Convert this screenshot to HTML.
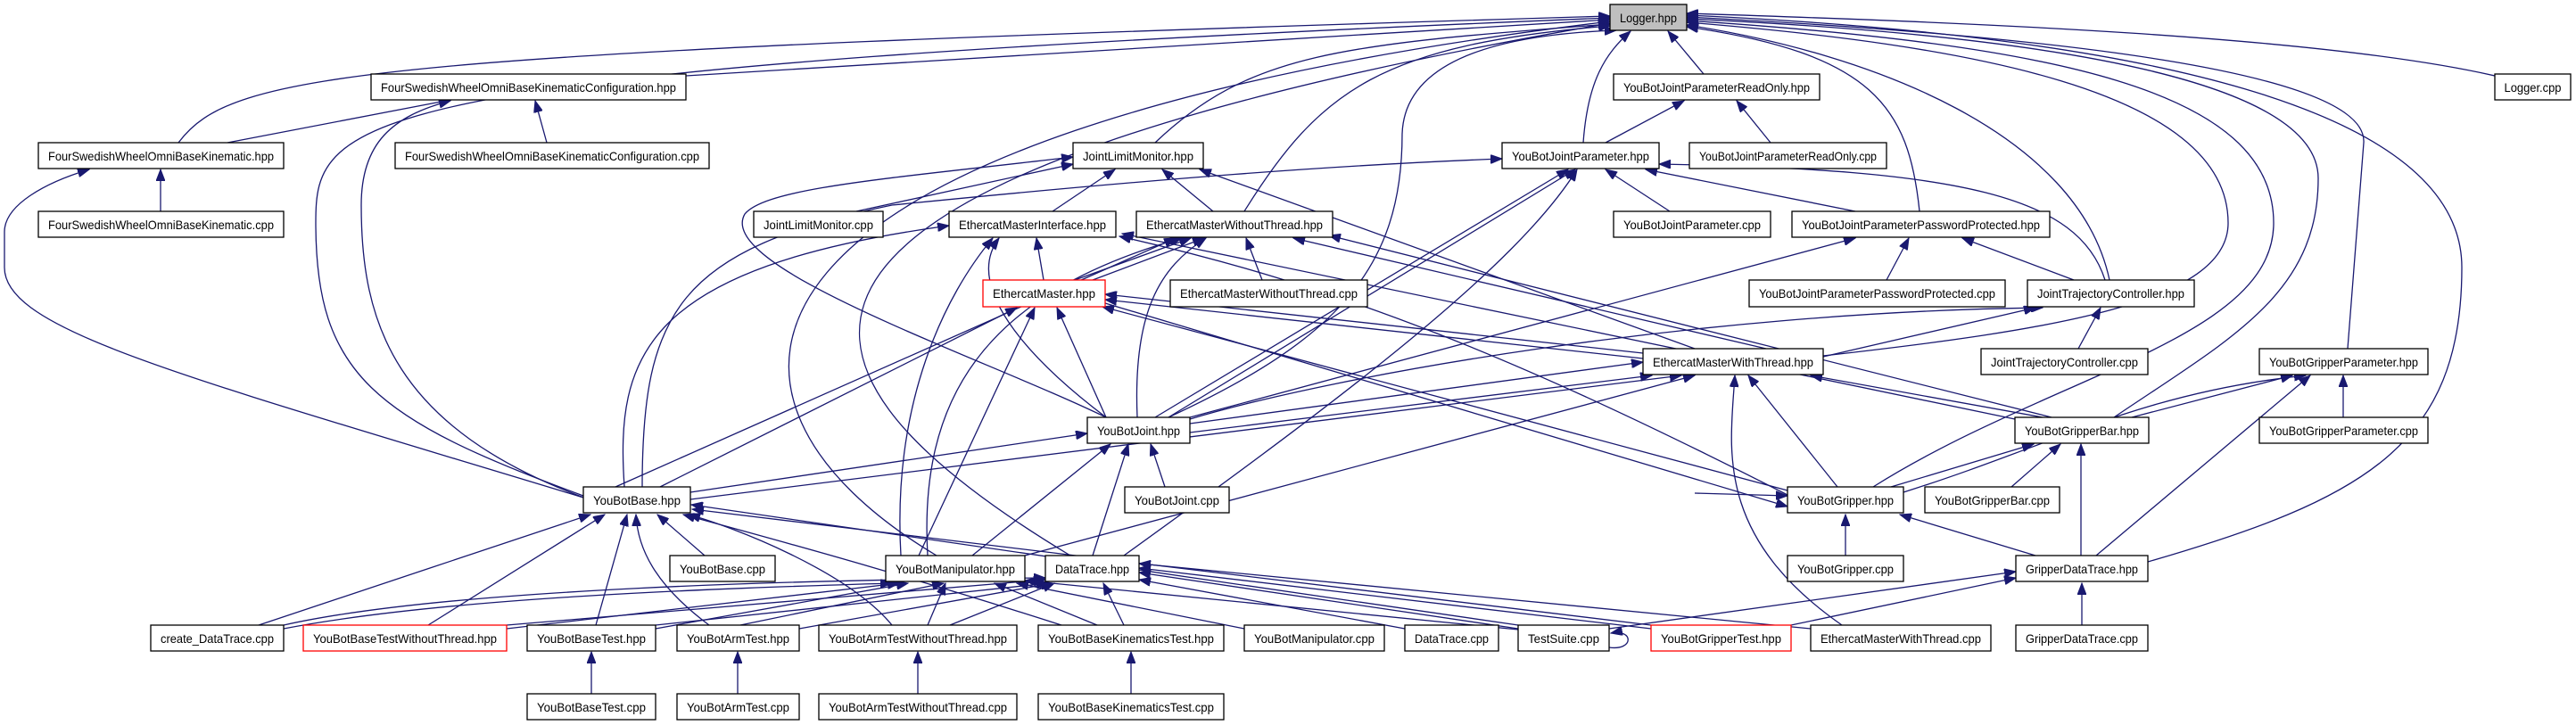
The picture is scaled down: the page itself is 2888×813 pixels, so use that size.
<!DOCTYPE html>
<html><head><meta charset="utf-8"><style>
html,body{margin:0;padding:0;background:#fff;}
svg{display:block;}
text{font-family:"Liberation Sans",Arial,sans-serif;font-size:14px;fill:#000;}
.e path{fill:none;stroke:#191970;stroke-width:1.3;}
.n rect{fill:#fff;stroke:#000;stroke-width:1.3;}
</style></head><body>
<svg width="2888" height="813" viewBox="0 0 2888 813" xmlns="http://www.w3.org/2000/svg">
<defs><marker id="a" markerUnits="userSpaceOnUse" markerWidth="14" markerHeight="10" refX="13" refY="5" orient="auto"><path d="M0,0 L13,5 L0,10 z" fill="#191970" stroke="#191970"/></marker></defs>
<g class="e" marker-end="url(#a)">
<!-- to Logger -->
<path marker-end="url(#a)" d="M200 160 C260 80 400 60 1805 18"/>
<path marker-end="url(#a)" d="M654 556 C420 470 354 420 354 250 C354 130 380 78 1805 20"/>
<path marker-end="url(#a)" d="M769 85 L1805 22"/>
<path marker-end="url(#a)" d="M1050 623 C760 450 760 150 1805 24"/>
<path marker-end="url(#a)" d="M1200 623 C830 400 800 200 1805 26"/>
<path marker-end="url(#a)" d="M1295 160 C1400 60 1500 50 1805 27"/>
<path marker-end="url(#a)" d="M1395 237 C1480 100 1550 50 1805 29"/>
<path marker-end="url(#a)" d="M1310 468 C1500 380 1572 300 1572 150 C1575 60 1700 38 1812 34"/>
<path marker-end="url(#a)" d="M1775 160 C1780 90 1800 60 1828 35"/>
<path marker-end="url(#a)" d="M1910 83 L1870 35"/>
<path marker-end="url(#a)" d="M2152 237 C2140 120 2100 60 1891 30"/>
<path marker-end="url(#a)" d="M2365 314 C2330 150 2100 60 1891 28"/>
<path marker-end="url(#a)" d="M2044 399 C2300 370 2498 340 2498 250 C2498 100 2200 50 1891 25"/>
<path marker-end="url(#a)" d="M2100 546 C2300 420 2549 380 2549 250 C2549 100 2300 50 1891 23"/>
<path marker-end="url(#a)" d="M2370 468 C2500 380 2599 330 2599 200 C2599 90 2300 40 1891 21"/>
<path marker-end="url(#a)" d="M2632 391 L2650 160 C2655 80 2300 40 1891 19"/>
<path marker-end="url(#a)" d="M2408 630 C2650 560 2760 500 2760 300 C2760 120 2400 40 1891 17"/>
<path marker-end="url(#a)" d="M2797 85 C2600 40 2200 25 1891 15"/>
<!-- FC / FK -->
<path marker-end="url(#a)" d="M255 160 L505 112"/>
<path marker-end="url(#a)" d="M613 160 L600 113"/>
<path marker-end="url(#a)" d="M660 560 C440 480 405 360 405 230 C405 160 440 130 505 113"/>
<path marker-end="url(#a)" d="M180 237 L180 190"/>
<path marker-end="url(#a)" d="M654 558 C200 420 5 370 5 300 L5 260 C5 230 50 205 100 190"/>
<!-- RO / JP -->
<path marker-end="url(#a)" d="M1800 160 L1888 113"/>
<path marker-end="url(#a)" d="M1985 160 L1947 113"/>
<path marker-end="url(#a)" d="M1872 237 L1800 190"/>
<path marker-end="url(#a)" d="M2080 237 L1845 190"/>
<path marker-end="url(#a)" d="M2360 314 C2330 220 2200 190 1860 184"/>
<path marker-end="url(#a)" d="M1295 468 L1758 190"/>
<path marker-end="url(#a)" d="M1310 468 L1766 190"/>
<path marker-end="url(#a)" d="M1260 623 C1500 450 1700 300 1768 190"/>
<path marker-end="url(#a)" d="M720 546 C720 350 760 280 1000 230 C1300 200 1500 185 1684 178"/>
<!-- JLM -->
<path marker-end="url(#a)" d="M960 237 L1203 184"/>
<path marker-end="url(#a)" d="M1180 237 L1250 190"/>
<path marker-end="url(#a)" d="M1360 237 L1303 190"/>
<path marker-end="url(#a)" d="M1900 391 L1345 190"/>
<path marker-end="url(#a)" d="M1240 468 C1100 400 800 300 835 240 C860 210 1000 200 1203 176"/>
<!-- EMI -->
<path marker-end="url(#a)" d="M1170 314 L1162 267"/>
<path marker-end="url(#a)" d="M700 546 C690 400 720 300 1064 253"/>
<path marker-end="url(#a)" d="M1010 623 C1000 450 1060 330 1113 267"/>
<path marker-end="url(#a)" d="M1240 468 C1150 400 1080 320 1120 267"/>
<path marker-end="url(#a)" d="M2004 555 C1700 400 1500 320 1255 265"/>
<path marker-end="url(#a)" d="M2259 470 L1258 262"/>
<!-- EMWO -->
<path marker-end="url(#a)" d="M1205 314 L1335 267"/>
<path marker-end="url(#a)" d="M1225 314 L1350 267"/>
<path marker-end="url(#a)" d="M1415 314 L1397 267"/>
<path marker-end="url(#a)" d="M1275 468 C1270 350 1300 300 1352 267"/>
<path marker-end="url(#a)" d="M690 546 L1318 267"/>
<path marker-end="url(#a)" d="M1040 623 C1030 450 1100 330 1325 267"/>
<path marker-end="url(#a)" d="M1980 391 L1450 267"/>
<path marker-end="url(#a)" d="M2300 468 L1490 264"/>
<!-- EM -->
<path marker-end="url(#a)" d="M740 546 L1140 345"/>
<path marker-end="url(#a)" d="M1030 623 L1160 345"/>
<path marker-end="url(#a)" d="M1240 468 L1185 345"/>
<path marker-end="url(#a)" d="M1842 396 L1239 330"/>
<path marker-end="url(#a)" d="M1842 402 L1239 336"/>
<path marker-end="url(#a)" d="M2004 550 L1236 344"/>
<!-- EMWT -->
<path marker-end="url(#a)" d="M1334 475 L1842 406"/>
<path marker-end="url(#a)" d="M1334 485 L1852 421"/>
<path marker-end="url(#a)" d="M774 560 L1885 421"/>
<path marker-end="url(#a)" d="M1149 623 L1900 421"/>
<path marker-end="url(#a)" d="M2060 546 L1960 421"/>
<path marker-end="url(#a)" d="M2290 468 L2030 421"/>
<path marker-end="url(#a)" d="M2065 701 C1920 600 1940 500 1945 421"/>
<!-- JTC / PP -->
<path marker-end="url(#a)" d="M2044 400 L2282 345"/>
<path marker-end="url(#a)" d="M1334 470 C1500 420 1900 350 2290 345"/>
<path marker-end="url(#a)" d="M2330 391 L2355 345"/>
<path marker-end="url(#a)" d="M2115 314 L2140 267"/>
<path marker-end="url(#a)" d="M2325 314 L2200 267"/>
<path marker-end="url(#a)" d="M1334 468 L2080 267"/>
<!-- GP / GB / G -->
<path marker-end="url(#a)" d="M2390 468 L2570 421"/>
<path marker-end="url(#a)" d="M2134 552 C2300 500 2400 440 2585 421"/>
<path marker-end="url(#a)" d="M2350 623 L2590 421"/>
<path marker-end="url(#a)" d="M2627 468 L2627 421"/>
<path marker-end="url(#a)" d="M2120 546 L2280 498"/>
<path marker-end="url(#a)" d="M2255 546 L2310 498"/>
<path marker-end="url(#a)" d="M2333 623 L2333 498"/>
<path marker-end="url(#a)" d="M2069 623 L2069 577"/>
<path marker-end="url(#a)" d="M2282 623 L2130 577"/>
<path marker-end="url(#a)" d="M1239 340 L2004 568"/>
<path marker-end="url(#a)" d="M1900 553 L2004 556"/>
<!-- YJ -->
<path marker-end="url(#a)" d="M1306 546 L1290 498"/>
<path marker-end="url(#a)" d="M1090 623 L1245 498"/>
<path marker-end="url(#a)" d="M1225 623 L1265 498"/>
<path marker-end="url(#a)" d="M774 552 L1219 486"/>
<!-- YB -->
<path marker-end="url(#a)" d="M1702 701 L775 566"/>
<path marker-end="url(#a)" d="M1851 701 L776 571"/>
<path marker-end="url(#a)" d="M290 701 L662 577"/>
<path marker-end="url(#a)" d="M480 701 L678 577"/>
<path marker-end="url(#a)" d="M668 701 L703 577"/>
<path marker-end="url(#a)" d="M795 701 C740 660 715 620 713 577"/>
<path marker-end="url(#a)" d="M790 623 L737 577"/>
<path marker-end="url(#a)" d="M1190 701 C1000 640 850 600 766 577"/>
<path marker-end="url(#a)" d="M1000 701 C950 640 820 590 772 577"/>
<!-- YM -->
<path marker-end="url(#a)" d="M318 705 C500 670 800 660 1000 654"/>
<path marker-end="url(#a)" d="M568 705 L1008 654"/>
<path marker-end="url(#a)" d="M735 705 L1018 654"/>
<path marker-end="url(#a)" d="M830 701 L1058 654"/>
<path marker-end="url(#a)" d="M1040 701 L1060 654"/>
<path marker-end="url(#a)" d="M1230 701 L1115 654"/>
<path marker-end="url(#a)" d="M1395 705 L1140 654"/>
<path marker-end="url(#a)" d="M1702 706 L1149 651"/>
<!-- DT -->
<path marker-end="url(#a)" d="M318 701 C500 660 900 650 1172 648"/>
<path marker-end="url(#a)" d="M568 701 L1172 650"/>
<path marker-end="url(#a)" d="M735 701 L1175 654"/>
<path marker-end="url(#a)" d="M896 705 L1180 654"/>
<path marker-end="url(#a)" d="M1065 701 L1182 654"/>
<path marker-end="url(#a)" d="M1260 701 L1237 654"/>
<path marker-end="url(#a)" d="M1575 705 L1277 650"/>
<path marker-end="url(#a)" d="M1702 705 L1277 642"/>
<path marker-end="url(#a)" d="M1851 705 L1277 637"/>
<path marker-end="url(#a)" d="M2030 705 L1277 632"/>
<!-- GDT -->
<path marker-end="url(#a)" d="M2334 701 L2334 654"/>
<path marker-end="url(#a)" d="M1804 705 L2260 641"/>
<path marker-end="url(#a)" d="M2008 701 L2260 648"/>
<!-- tests -->
<path marker-end="url(#a)" d="M663 778 L663 731"/>
<path marker-end="url(#a)" d="M827 778 L827 731"/>
<path marker-end="url(#a)" d="M1029 778 L1029 731"/>
<path marker-end="url(#a)" d="M1268 778 L1268 731"/>
<path marker-end="url(#a)" d="M1804 726 C1832 730 1832 705 1806 710"/>
</g>
<g class="n">
<rect x="1805" y="5" width="86" height="29" style="fill:#bfbfbf"/><text x="1848" y="25" text-anchor="middle" textLength="64" lengthAdjust="spacingAndGlyphs">Logger.hpp</text>
<rect x="2797" y="83" width="85" height="29"/><text x="2839.5" y="103" text-anchor="middle" textLength="64" lengthAdjust="spacingAndGlyphs">Logger.cpp</text>
<rect x="416" y="83" width="353" height="29"/><text x="592.5" y="103" text-anchor="middle" textLength="331" lengthAdjust="spacingAndGlyphs">FourSwedishWheelOmniBaseKinematicConfiguration.hpp</text>
<rect x="1809" y="83" width="231" height="29"/><text x="1924.5" y="103" text-anchor="middle" textLength="209" lengthAdjust="spacingAndGlyphs">YouBotJointParameterReadOnly.hpp</text>
<rect x="43" y="160" width="275" height="29"/><text x="180.5" y="180" text-anchor="middle" textLength="253" lengthAdjust="spacingAndGlyphs">FourSwedishWheelOmniBaseKinematic.hpp</text>
<rect x="443" y="160" width="352" height="29"/><text x="619" y="180" text-anchor="middle" textLength="330" lengthAdjust="spacingAndGlyphs">FourSwedishWheelOmniBaseKinematicConfiguration.cpp</text>
<rect x="1203" y="160" width="146" height="29"/><text x="1276" y="180" text-anchor="middle" textLength="124" lengthAdjust="spacingAndGlyphs">JointLimitMonitor.hpp</text>
<rect x="1684" y="160" width="176" height="29"/><text x="1772" y="180" text-anchor="middle" textLength="154" lengthAdjust="spacingAndGlyphs">YouBotJointParameter.hpp</text>
<rect x="1894" y="160" width="221" height="29"/><text x="2004.5" y="180" text-anchor="middle" textLength="199" lengthAdjust="spacingAndGlyphs">YouBotJointParameterReadOnly.cpp</text>
<rect x="43" y="237" width="275" height="29"/><text x="180.5" y="257" text-anchor="middle" textLength="253" lengthAdjust="spacingAndGlyphs">FourSwedishWheelOmniBaseKinematic.cpp</text>
<rect x="845" y="237" width="145" height="29"/><text x="917.5" y="257" text-anchor="middle" textLength="123" lengthAdjust="spacingAndGlyphs">JointLimitMonitor.cpp</text>
<rect x="1064" y="237" width="187" height="29"/><text x="1157.5" y="257" text-anchor="middle" textLength="165" lengthAdjust="spacingAndGlyphs">EthercatMasterInterface.hpp</text>
<rect x="1274" y="237" width="220" height="29"/><text x="1384" y="257" text-anchor="middle" textLength="198" lengthAdjust="spacingAndGlyphs">EthercatMasterWithoutThread.hpp</text>
<rect x="1809" y="237" width="176" height="29"/><text x="1897" y="257" text-anchor="middle" textLength="154" lengthAdjust="spacingAndGlyphs">YouBotJointParameter.cpp</text>
<rect x="2009" y="237" width="289" height="29"/><text x="2153.5" y="257" text-anchor="middle" textLength="267" lengthAdjust="spacingAndGlyphs">YouBotJointParameterPasswordProtected.hpp</text>
<rect x="1102" y="314" width="137" height="30" style="stroke:#f00"/><text x="1170.5" y="334" text-anchor="middle" textLength="115" lengthAdjust="spacingAndGlyphs">EthercatMaster.hpp</text>
<rect x="1312" y="314" width="221" height="30"/><text x="1422.5" y="334" text-anchor="middle" textLength="199" lengthAdjust="spacingAndGlyphs">EthercatMasterWithoutThread.cpp</text>
<rect x="1961" y="314" width="287" height="30"/><text x="2104.5" y="334" text-anchor="middle" textLength="265" lengthAdjust="spacingAndGlyphs">YouBotJointParameterPasswordProtected.cpp</text>
<rect x="2273" y="314" width="187" height="30"/><text x="2366.5" y="334" text-anchor="middle" textLength="165" lengthAdjust="spacingAndGlyphs">JointTrajectoryController.hpp</text>
<rect x="1842" y="391" width="202" height="29"/><text x="1943" y="411" text-anchor="middle" textLength="180" lengthAdjust="spacingAndGlyphs">EthercatMasterWithThread.hpp</text>
<rect x="2221" y="391" width="187" height="29"/><text x="2314.5" y="411" text-anchor="middle" textLength="165" lengthAdjust="spacingAndGlyphs">JointTrajectoryController.cpp</text>
<rect x="2533" y="391" width="189" height="29"/><text x="2627.5" y="411" text-anchor="middle" textLength="167" lengthAdjust="spacingAndGlyphs">YouBotGripperParameter.hpp</text>
<rect x="1219" y="468" width="115" height="29"/><text x="1276.5" y="488" text-anchor="middle" textLength="93" lengthAdjust="spacingAndGlyphs">YouBotJoint.hpp</text>
<rect x="2259" y="468" width="150" height="29"/><text x="2334" y="488" text-anchor="middle" textLength="128" lengthAdjust="spacingAndGlyphs">YouBotGripperBar.hpp</text>
<rect x="2533" y="468" width="189" height="29"/><text x="2627.5" y="488" text-anchor="middle" textLength="167" lengthAdjust="spacingAndGlyphs">YouBotGripperParameter.cpp</text>
<rect x="654" y="546" width="120" height="29"/><text x="714" y="566" text-anchor="middle" textLength="98" lengthAdjust="spacingAndGlyphs">YouBotBase.hpp</text>
<rect x="1261" y="546" width="117" height="29"/><text x="1319.5" y="566" text-anchor="middle" textLength="95" lengthAdjust="spacingAndGlyphs">YouBotJoint.cpp</text>
<rect x="2004" y="546" width="130" height="29"/><text x="2069" y="566" text-anchor="middle" textLength="108" lengthAdjust="spacingAndGlyphs">YouBotGripper.hpp</text>
<rect x="2158" y="546" width="151" height="29"/><text x="2233.5" y="566" text-anchor="middle" textLength="129" lengthAdjust="spacingAndGlyphs">YouBotGripperBar.cpp</text>
<rect x="751" y="623" width="118" height="29"/><text x="810" y="643" text-anchor="middle" textLength="96" lengthAdjust="spacingAndGlyphs">YouBotBase.cpp</text>
<rect x="993" y="623" width="156" height="29"/><text x="1071" y="643" text-anchor="middle" textLength="134" lengthAdjust="spacingAndGlyphs">YouBotManipulator.hpp</text>
<rect x="1172" y="623" width="105" height="29"/><text x="1224.5" y="643" text-anchor="middle" textLength="83" lengthAdjust="spacingAndGlyphs">DataTrace.hpp</text>
<rect x="2004" y="623" width="130" height="29"/><text x="2069" y="643" text-anchor="middle" textLength="108" lengthAdjust="spacingAndGlyphs">YouBotGripper.cpp</text>
<rect x="2260" y="623" width="148" height="29"/><text x="2334" y="643" text-anchor="middle" textLength="126" lengthAdjust="spacingAndGlyphs">GripperDataTrace.hpp</text>
<rect x="169" y="701" width="149" height="29"/><text x="243.5" y="721" text-anchor="middle" textLength="127" lengthAdjust="spacingAndGlyphs">create_DataTrace.cpp</text>
<rect x="340" y="701" width="228" height="29" style="stroke:#f00"/><text x="454" y="721" text-anchor="middle" textLength="206" lengthAdjust="spacingAndGlyphs">YouBotBaseTestWithoutThread.hpp</text>
<rect x="591" y="701" width="144" height="29"/><text x="663" y="721" text-anchor="middle" textLength="122" lengthAdjust="spacingAndGlyphs">YouBotBaseTest.hpp</text>
<rect x="759" y="701" width="137" height="29"/><text x="827.5" y="721" text-anchor="middle" textLength="115" lengthAdjust="spacingAndGlyphs">YouBotArmTest.hpp</text>
<rect x="918" y="701" width="222" height="29"/><text x="1029" y="721" text-anchor="middle" textLength="200" lengthAdjust="spacingAndGlyphs">YouBotArmTestWithoutThread.hpp</text>
<rect x="1164" y="701" width="208" height="29"/><text x="1268" y="721" text-anchor="middle" textLength="186" lengthAdjust="spacingAndGlyphs">YouBotBaseKinematicsTest.hpp</text>
<rect x="1395" y="701" width="157" height="29"/><text x="1473.5" y="721" text-anchor="middle" textLength="135" lengthAdjust="spacingAndGlyphs">YouBotManipulator.cpp</text>
<rect x="1575" y="701" width="105" height="29"/><text x="1627.5" y="721" text-anchor="middle" textLength="83" lengthAdjust="spacingAndGlyphs">DataTrace.cpp</text>
<rect x="1702" y="701" width="102" height="29"/><text x="1753" y="721" text-anchor="middle" textLength="80" lengthAdjust="spacingAndGlyphs">TestSuite.cpp</text>
<rect x="1851" y="701" width="157" height="29" style="stroke:#f00"/><text x="1929.5" y="721" text-anchor="middle" textLength="135" lengthAdjust="spacingAndGlyphs">YouBotGripperTest.hpp</text>
<rect x="2030" y="701" width="202" height="29"/><text x="2131" y="721" text-anchor="middle" textLength="180" lengthAdjust="spacingAndGlyphs">EthercatMasterWithThread.cpp</text>
<rect x="2260" y="701" width="148" height="29"/><text x="2334" y="721" text-anchor="middle" textLength="126" lengthAdjust="spacingAndGlyphs">GripperDataTrace.cpp</text>
<rect x="591" y="778" width="144" height="29"/><text x="663" y="798" text-anchor="middle" textLength="122" lengthAdjust="spacingAndGlyphs">YouBotBaseTest.cpp</text>
<rect x="759" y="778" width="137" height="29"/><text x="827.5" y="798" text-anchor="middle" textLength="115" lengthAdjust="spacingAndGlyphs">YouBotArmTest.cpp</text>
<rect x="918" y="778" width="222" height="29"/><text x="1029" y="798" text-anchor="middle" textLength="200" lengthAdjust="spacingAndGlyphs">YouBotArmTestWithoutThread.cpp</text>
<rect x="1164" y="778" width="208" height="29"/><text x="1268" y="798" text-anchor="middle" textLength="186" lengthAdjust="spacingAndGlyphs">YouBotBaseKinematicsTest.cpp</text>
</g>
</svg>
</body></html>
